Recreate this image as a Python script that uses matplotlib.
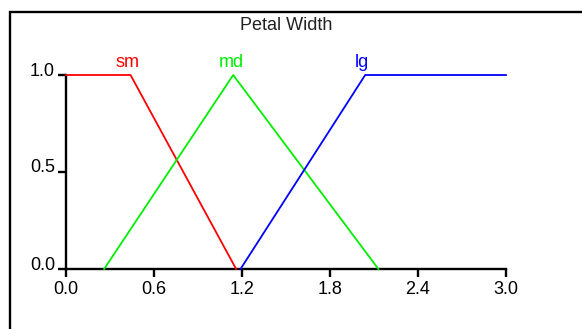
import matplotlib
matplotlib.use("Agg")
import matplotlib.pyplot as plt
from matplotlib.patches import Rectangle
from matplotlib.transforms import ScaledTranslation

plt.rcParams['font.family'] = ['Liberation Sans', 'DejaVu Sans']

title = "Petal Width"
sets = ["sm", "md", "lg"]
colors = ["#ff0000", "#00ee00", "#0000ff"]
sm_x = [0.0, 0.44, 1.16]
sm_y = [1.0, 1.0, 0.0]
md_x = [0.26, 1.14, 2.13]
md_y = [0.0, 1.0, 0.0]
lg_x = [1.19, 2.04, 3.0]
lg_y = [0.0, 1.0, 1.0]
label_x = [0.42, 1.13, 2.02]
xticks = [0.0, 0.6, 1.2, 1.8, 2.4, 3.0]
yticks = [0.0, 0.5, 1.0]

W, H = 582, 329
fig = plt.figure(figsize=(W / 100, H / 100), dpi=100)
fig.patches.append(Rectangle((10 / W, -0.2), 1.2, 1 - 12 / H + 0.2,
                             transform=fig.transFigure, fill=False,
                             edgecolor='black', linewidth=1.7, zorder=0))
ax = fig.add_axes([66 / W, 1 - 269 / H, 440 / W, (269 - 75) / H])
ax.set_xlim(0, 3)
ax.set_ylim(0, 1)
for xs, ys, c in zip([sm_x, md_x, lg_x], [sm_y, md_y, lg_y], colors):
    ax.plot(xs, ys, color=c, linewidth=1.3, clip_on=False, zorder=3)
fs = 13
for name, lx, c in zip(sets, label_x, colors):
    ax.text(lx, 1.0 + 12 / 194, name, color=c, ha='center', va='center', fontsize=fs)
ax.text(1.5, 1.0 + 49 / 194, title, ha='center', va='center', fontsize=fs, color='#222222')
for s in ['top', 'right']:
    ax.spines[s].set_visible(False)
for s in ['left', 'bottom']:
    ax.spines[s].set_linewidth(1.7)
ax.set_xticks(xticks)
ax.set_xticklabels([f"{v:.1f}" for v in xticks])
ax.set_yticks(yticks)
ax.set_yticklabels([f"{v:.1f}" for v in yticks])
ax.tick_params(axis='both', direction='out', length=6, width=1.7, labelsize=fs, pad=3)
ax.tick_params(axis='y', pad=2)
off = ScaledTranslation(0, 6 / 100, fig.dpi_scale_trans)
for lab in ax.get_yticklabels():
    lab.set_transform(lab.get_transform() + off)
ax.patch.set_visible(False)
fig.savefig("out.png", dpi=100)
